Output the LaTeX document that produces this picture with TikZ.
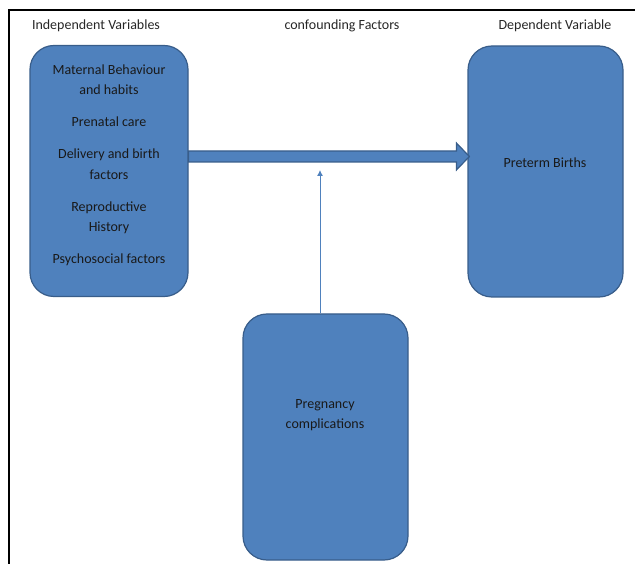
\documentclass[tikz,border=0pt]{standalone}
\usepackage{fontspec}
\setmainfont{Carlito}
\usetikzlibrary{arrows.meta, positioning, calc}
\definecolor{BoxBlue}{HTML}{4F81BD}
\definecolor{BoxEdge}{HTML}{385D8A}

\begin{document}
\begin{tikzpicture}[
    x=1pt, y=-1pt,
    font=\fontsize{14pt}{20.5pt}\selectfont,
    panel/.style={
        rectangle, rounded corners=24pt,
        draw=BoxEdge, line width=1.2pt, fill=BoxBlue,
        inner sep=0pt
    },
    boxtext/.style={align=center, text=black!90},
    heading/.style={text=black!85},
    bigarrow/.style={fill=BoxBlue, draw=BoxEdge, line width=1.2pt, line join=miter},
    thinarrow/.style={draw=BoxBlue, line width=0.9pt, -{Latex[length=6pt,width=6pt]}}
]
    \useasboundingbox (0,0) rectangle (635,564);
    % Frame
    \draw[line width=2pt] (9,564) -- (9,10) -- (635,10);

    % Headings
    \node[heading] (indephead) at (96,26) {Independent Variables};
    \node[heading] (confhead) at (342,26) {confounding Factors};
    \node[heading] (dephead) at (555,26) {Dependent Variable};

    % Boxes
    \node[panel, minimum width=158pt, minimum height=251pt] (indep) at (109,171) {};
    \node[panel, minimum width=155pt, minimum height=251pt] (outcome) at (545.5,171.5) {};
    \node[panel, minimum width=165pt, minimum height=246pt] (conf) at (325.5,437) {};

    % Box texts
    \node[boxtext] (indeptext) at (109,165.5) {Maternal Behaviour\\and habits\\[11.5pt]
        Prenatal care\\[11.5pt]
        Delivery and birth\\factors\\[11.5pt]
        Reproductive\\History\\[11.5pt]
        Psychosocial factors};
    \node[boxtext] (outcometext) at (545,162.5) {Preterm Births};
    \node[boxtext] (conftext) at (325,415) {Pregnancy\\complications};

    % Arrows
    \coordinate (mid) at (320,156.5);
    \coordinate (hit) at (320,170);
    \path[bigarrow] let \p1=(indep.east), \p2=(outcome.west), \p3=(mid) in
        (\x1,\y3+5.5pt) -- (\x2-11pt,\y3+5.5pt) -- (\x2-11pt,\y3+13.5pt) -- (\x2+2pt,\y3)
        -- (\x2-11pt,\y3-13.5pt) -- (\x2-11pt,\y3-5.5pt) -- (\x1,\y3-5.5pt) -- cycle;
    \draw[thinarrow] (hit |- conf.north) -- (hit);

\end{tikzpicture}
\end{document}
